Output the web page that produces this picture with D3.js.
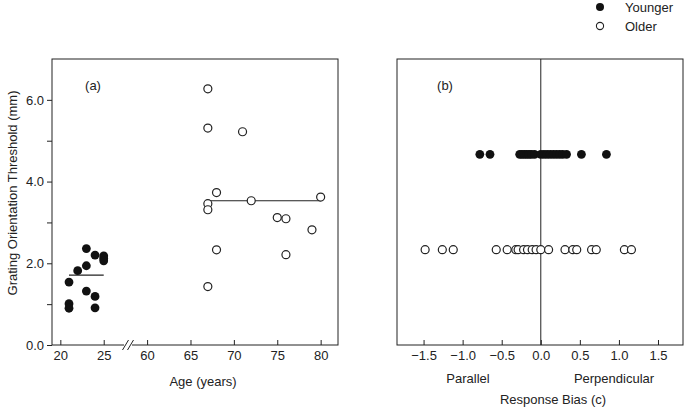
<!DOCTYPE html>
<html><head><meta charset="utf-8">
<script src="https://cdn.jsdelivr.net/npm/d3@7"></script>
<style>
body{margin:0;background:#fff;}
svg text{font-family:"Liberation Sans",Arial,sans-serif;fill:#222;}
</style></head>
<body><svg id="c" width="685" height="407"></svg>
<script>
// ---- Data ----
const youngerAge = [21,21,21,22,23,23,23,24,24,24,25,25,25];
const youngerThreshold = [1.54,1.01,0.90,1.82,2.36,1.94,1.32,2.20,1.19,0.91,2.18,2.12,2.06];
const youngerMean = 1.71;
const olderAge = [67,67,71,68,67,67,72,80,75,76,79,68,76,67];
const olderThreshold = [6.27,5.31,5.22,3.73,3.46,3.31,3.53,3.62,3.12,3.09,2.82,2.33,2.21,1.43];
const olderMean = 3.53;
const ageTicks = [20,25,60,65,70,75,80];
const thresholdTicks = [0,1,2,3,4,5,6];
const youngerBias = [-0.78,-0.65,-0.27,-0.24,-0.21,-0.18,-0.15,-0.12,-0.08,0.0,0.04,0.08,0.12,0.16,0.20,0.24,0.28,0.33,0.52,0.84];
const olderBias = [-1.48,-1.26,-1.12,-0.57,-0.43,-0.32,-0.29,-0.22,-0.17,-0.11,-0.06,0.0,0.10,0.31,0.41,0.46,0.65,0.71,1.07,1.16];
const biasTicks = [-1.5,-1.0,-0.5,0.0,0.5,1.0,1.5];
const groups = ["Younger","Older"];

const svg = d3.select("#c");
const ink = "#222";
const RF = 4.4, RO = 4;
const FS = 13;

// ---- Panel (a) ----
const gap = 30; // ages above the break are shifted left
const tx = a => a > 40 ? a - gap : a;
const xA = d3.scaleLinear().domain([19.04, 52]).range([52, 338]);
const yA = d3.scaleLinear().domain([0, 7]).range([345, 59]);
const gA = svg.append("g");
gA.append("rect").attr("x",52).attr("y",59).attr("width",286).attr("height",286)
  .attr("fill","none").attr("stroke",ink).attr("stroke-width",1);
const axA = gA.append("g").attr("transform","translate(0,345)")
  .call(d3.axisBottom(xA).tickValues(ageTicks.map(tx))
     .tickFormat(v => String(v > 26 ? v + gap : v)).tickSizeInner(-5).tickSizeOuter(0).tickPadding(6));
axA.select(".domain").remove();
const ayA = gA.append("g").attr("transform","translate(52,0)")
  .call(d3.axisLeft(yA).tickValues(thresholdTicks)
     .tickFormat(v => v % 2 === 0 ? d3.format(".1f")(v) : "").tickSizeInner(5).tickSizeOuter(0).tickPadding(3));
ayA.select(".domain").remove();
[axA, ayA].forEach(a => {
  a.selectAll("line").attr("stroke",ink);
  a.selectAll("text").attr("font-size",FS).attr("fill",ink);
});
// axis break
const bx = xA(27.8);
gA.append("rect").attr("x",bx-4).attr("y",342).attr("width",8).attr("height",6).attr("fill","#fff");
[-2.5, 2.5].forEach(o => gA.append("line").attr("x1",bx+o-3).attr("y1",350).attr("x2",bx+o+3).attr("y2",340)
  .attr("stroke",ink).attr("stroke-width",1));

// means
gA.append("line").attr("x1",xA(21)).attr("x2",xA(25)).attr("y1",yA(youngerMean)).attr("y2",yA(youngerMean))
  .attr("stroke",ink).attr("stroke-width",1.2);
gA.append("line").attr("x1",xA(tx(67))).attr("x2",xA(tx(80))).attr("y1",yA(olderMean)).attr("y2",yA(olderMean))
  .attr("stroke",ink).attr("stroke-width",1.2);

gA.selectAll(".y").data(youngerAge).join("circle")
  .attr("cx",(d)=>xA(tx(d))).attr("cy",(d,i)=>yA(youngerThreshold[i])).attr("r",RF).attr("fill","#111");
gA.selectAll(".o").data(olderAge).join("circle")
  .attr("cx",(d)=>xA(tx(d))).attr("cy",(d,i)=>yA(olderThreshold[i])).attr("r",RO)
  .attr("fill","#fff").attr("stroke",ink).attr("stroke-width",1.2);

gA.append("text").attr("x",93).attr("y",90).attr("text-anchor","middle").attr("font-size",FS).text("(a)");
gA.append("text").attr("x",203).attr("y",386).attr("text-anchor","middle").attr("font-size",FS).text("Age (years)");
gA.append("text").attr("transform","translate(17,193) rotate(-90)").attr("text-anchor","middle")
  .attr("font-size",FS).text("Grating Orientation Threshold (mm)");

// ---- Panel (b) ----
const xB = d3.scaleLinear().domain([-1.84, 1.82]).range([397, 683]);
const yB = d3.scalePoint().domain(groups).range([59, 345]).padding(1);
const gB = svg.append("g");
gB.append("rect").attr("x",397).attr("y",59).attr("width",286).attr("height",286)
  .attr("fill","none").attr("stroke",ink).attr("stroke-width",1);
gB.append("line").attr("x1",xB(0)).attr("x2",xB(0)).attr("y1",59).attr("y2",345).attr("stroke",ink).attr("stroke-width",1);
const axB = gB.append("g").attr("transform","translate(0,345)")
  .call(d3.axisBottom(xB).tickValues(biasTicks).tickFormat(v => d3.format(".1f")(v).replace("-","\u2212"))
     .tickSizeInner(-5).tickSizeOuter(0).tickPadding(6));
axB.select(".domain").remove();
axB.selectAll("line").attr("stroke",ink);
axB.selectAll("text").attr("font-size",FS).attr("fill",ink);

gB.selectAll(".yb").data(youngerBias).join("circle")
  .attr("cx",d=>xB(d)).attr("cy",yB("Younger")).attr("r",RF).attr("fill","#111");
gB.selectAll(".ob").data(olderBias).join("circle")
  .attr("cx",d=>xB(d)).attr("cy",yB("Older")).attr("r",RO)
  .attr("fill","#fff").attr("stroke",ink).attr("stroke-width",1.2);

gB.append("text").attr("x",445).attr("y",90).attr("text-anchor","middle").attr("font-size",FS).text("(b)");
gB.append("text").attr("x",468).attr("y",383).attr("text-anchor","middle").attr("font-size",FS).text("Parallel");
gB.append("text").attr("x",614).attr("y",383).attr("text-anchor","middle").attr("font-size",FS).text("Perpendicular");
gB.append("text").attr("x",553).attr("y",404).attr("text-anchor","middle").attr("font-size",FS).text("Response Bias (c)");

// ---- Legend ----
const lg = svg.append("g");
groups.forEach((g,i) => {
  const cy = 7 + i*19;
  lg.append("circle").attr("cx",600).attr("cy",cy).attr("r",i===0?4:3.6)
    .attr("fill",i===0?"#111":"#fff").attr("stroke",i===0?"none":ink).attr("stroke-width",1.1);
  lg.append("text").attr("x",625).attr("y",cy+4.5).attr("font-size",FS).text(g);
});
</script></body></html>
